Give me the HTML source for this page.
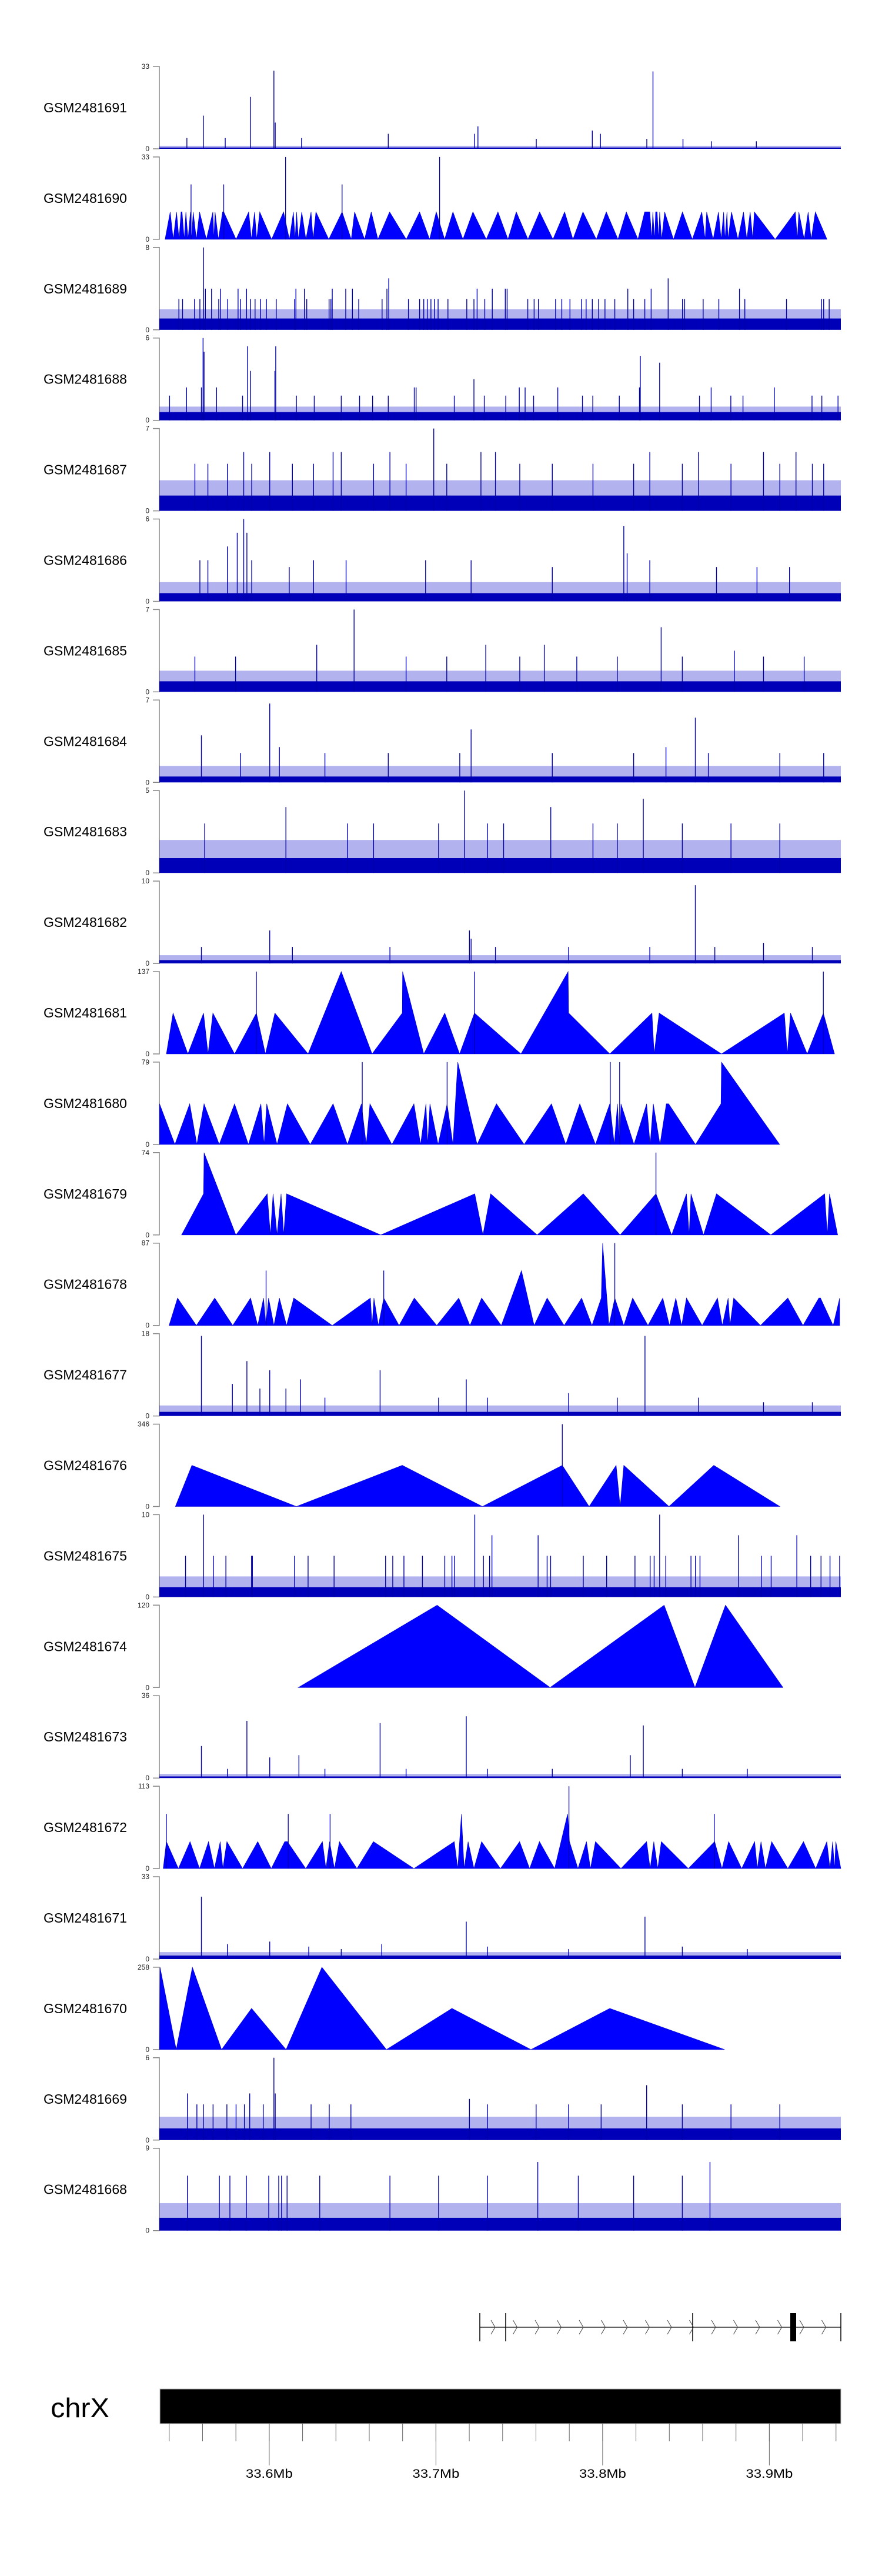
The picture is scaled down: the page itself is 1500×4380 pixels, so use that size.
<!DOCTYPE html>
<html><head><meta charset="utf-8"><title>Coverage tracks chrX</title>
<style>
html,body{margin:0;padding:0;background:#fff;}
svg{display:block;font-family:"Liberation Sans",Arial,sans-serif;}
</style></head>
<body>
<svg id="chart" xmlns="http://www.w3.org/2000/svg" width="1500" height="4380" viewBox="0 0 1500 4380"></svg>
<script>
// ---- data (positions in kb offset from START_KB, values in read counts) ----
const START_KB = 33530.2;
const trackNames = ["GSM2481691","GSM2481690","GSM2481689","GSM2481688","GSM2481687","GSM2481686","GSM2481685","GSM2481684","GSM2481683","GSM2481682","GSM2481681","GSM2481680","GSM2481679","GSM2481678","GSM2481677","GSM2481676","GSM2481675","GSM2481674","GSM2481673","GSM2481672","GSM2481671","GSM2481670","GSM2481669","GSM2481668"];
const trackMax = [33,33,8,6,7,6,7,7,5,10,137,79,74,87,18,346,10,120,36,113,33,258,6,9];
const solidLevel = {"GSM2481691":0.5,"GSM2481689":1.1,"GSM2481688":0.6,"GSM2481687":1.3,"GSM2481686":0.6,"GSM2481685":0.9,"GSM2481684":0.5,"GSM2481683":0.9,"GSM2481682":0.4,"GSM2481677":0.9,"GSM2481675":1.2,"GSM2481673":0.7,"GSM2481671":1.4,"GSM2481669":0.85,"GSM2481668":1.4};
const hazeLevel = {"GSM2481691":1.2,"GSM2481689":2,"GSM2481688":1,"GSM2481687":2.6,"GSM2481686":1.4,"GSM2481685":1.8,"GSM2481684":1.4,"GSM2481683":2,"GSM2481682":1,"GSM2481677":2.3,"GSM2481675":2.5,"GSM2481673":1.8,"GSM2481671":2.8,"GSM2481669":1.7,"GSM2481668":3};

// noise tracks: spike positions / values
const pos1691 = [20.4,30.3,43.4,58.5,72.6,73.4,89.2,141.2,193,195,230,263.6,268.5,296.3,300,318,335,362];
const val1691 = [4.3,13.3,4.3,20.8,31.3,10.5,4.3,6,6,9,4,7.3,6,4,31,4,3,3];
const pos1689 = [30.4,31.5,35.2,40.6,51.1,56.2,85.8,90.9,107.6,115.7,119.7,140.4,141.5,194.5,203.6,211.4,212.5,284.9,298.9,309.1,351.9,15.6,17.8,25,28.2,39.5,44.9,52.5,58.6,61.3,64.6,68.1,74,85,92.3,105.7,106.8,123.5,137.5,153.3,160,162.5,164.6,166.8,168.9,171.1,177,188.3,192.6,199.1,224.9,228.7,231.3,241.6,245.3,250.2,257.2,259.9,263.6,267.4,271.2,277.1,288.4,295.1,317.7,319,330.1,339.5,355.1,380.1,401.1,402.4,405.7];
const val1689 = [8,4,4,4,4,4,4,4,4,4,4,4,5,4,4,4,4,4,4,5,4,3,3,3,3,3,3,3,3,3,3,3,3,3,3,3,3,3,3,3,3,3,3,3,3,3,3,3,3,3,3,3,3,3,3,3,3,3,3,3,3,3,3,3,3,3,3,3,3,3,3,3,3];
const pos1688 = [30.1,30.7,56.8,58.6,73.7,73.2,20.2,29.1,192.6,292.4,291.9,304,156.8,157.9,242.9,219.8,223.3,334.9,372.8,38.2,10,53.8,86.1,96.8,113,124,131.8,141.2,180.8,198.8,211.7,228.4,257.7,263.9,279.8,327.9,346.7,354,395.4,401.3,411];
const val1688 = [6,5,5.4,3.6,5.4,3.6,2.4,2.4,3,4.7,2.4,4.2,2.4,2.4,2.4,2.4,2.4,2.4,2.4,2.4,1.8,1.8,1.8,1.8,1.8,1.8,1.8,1.8,1.8,1.8,1.8,1.8,1.8,1.8,1.8,1.8,1.8,1.8,1.8,1.8,1.8];
const pos1687 = [168.5,70.1,54.5,108.1,113,142.2,196.8,205.5,298.1,327.3,366.3,385.8,25.2,33,44.7,59.3,83.7,96.4,132.4,151.9,176.3,220.1,239.6,264,288.4,317.6,346.8,376.1,395.6,402.4];
const val1687 = [7,5,5,5,5,5,5,5,5,5,5,5,4,4,4,4,4,4,4,4,4,4,4,4,4,4,4,4,4,4];
const pos1686 = [28.2,33,44.7,50.6,54.5,56.4,59.3,81.8,96.4,115.9,163.6,190.9,239.6,282.5,284.5,298.1,338.1,362.4,381.9];
const val1686 = [3,3,4,5,6,5,3,2.5,3,3,3,3,2.5,5.5,3.5,3,2.5,2.5,2.5];
const pos1685 = [120.7,304.9,98.3,199.7,234.8,348.8,25.2,49.6,151.9,176.3,220.1,254.3,278.6,317.6,366.3,390.7];
const val1685 = [7,5.5,4,4,4,3.5,3,3,3,3,3,3,3,3,3,3];
const pos1684 = [70.1,325.4,29.1,190.9,52.5,75.9,103.2,141.2,184.1,239.6,288.4,307.8,333.2,376.1,402.4];
const val1684 = [6.7,5.5,4,4.5,2.5,3,2.5,2.5,2.5,2.5,2.5,3,2.5,2.5,2.5];
const pos1683 = [187,294.2,238.7,79.8,31.1,116.8,132.4,171.4,200.7,210.4,264,278.6,317.6,346.8,376.1];
const val1683 = [5,4.5,4,4,3,3,3,3,3,3,3,3,3,3,3];
const pos1682 = [325.4,70.1,189.9,29.1,83.7,142.2,190.9,205.5,249.4,298.1,337.1,366.3,395.6];
const val1682 = [9.5,4,4,2,2,2,3,2,2,2,2,2.5,2];
const pos1677 = [29.1,295.2,56.4,70.1,136.3,188,79.8,88.6,47.7,64.2,103.2,171.4,200.7,249.4,278.6,327.3,366.3,395.6];
const val1677 = [17.5,17.5,12,10,10,8,6,8,7,6,4,4,4,5,4,4,3,3];
const pos1675 = [30.4,193.1,304,203.4,231.1,351.3,386.3,19.6,36.3,43.8,59.2,59.7,85,93.1,108.7,139.6,143.9,150.6,161.7,175.1,179.4,181,198.3,202,236.5,238.6,258.2,272.2,289.2,298.3,300.7,307.7,322.8,325.5,328.2,365,370.9,394.6,400.8,406.2,412];
const val1675 = [10,10,10,7.5,7.5,7.5,7.5,5,5,5,5,5,5,5,5,5,5,5,5,5,5,5,5,5,5,5,5,5,5,5,5,5,5,5,5,5,5,5,5,5,5];
const pos1673 = [56.4,136.3,188,294.2,29.1,70.1,87.6,286.4,44.7,103.2,151.9,200.7,239.6,317.6,356.6];
const val1673 = [25,24,27,23,14,9,10,10,4,4,4,4,4,4,4];
const pos1671 = [29.1,295.2,188,70.1,44.7,137.3,200.7,249.4,317.6,356.6,93.5,113];
const val1671 = [25,17,15,7,6,6,5,4,5,4,5,4];
const pos1669 = [72.6,20.7,58.1,73.4,26.4,30.3,36.1,44.4,49.9,54.9,66.2,94.9,105.8,118.8,189.9,296.2,200.7,229.9,249.4,268.9,317.6,346.8,376.1];
const val1669 = [6,3.4,3.4,3.4,2.6,2.6,2.6,2.6,2.6,2.6,2.6,2.6,2.6,2.6,3,4,2.6,2.6,2.6,2.6,2.6,2.6,2.6];
const pos1668 = [20.7,39.9,46.2,56.1,69.5,75.5,77.2,80.5,100.1,230.9,334.2,200.7,255.2,288.4,317.6,142.2,171.4];
const val1668 = [6,6,6,6,6,6,6,6,6,7.5,7.5,6,6,6,6,6,6];

// triangle tracks: polyline vertices + spikes
const vx1690 = [7.3,10.4,12.2,14.2,15.7,16.9,17.5,18.8,19.8,21.1,22.5,23.1,24.2,26.1,28,32.1,36,36.6,37.3,39.3,41.8,42.5,49.9,57.5,59.1,61,62.3,64.1,71.2,78.4,81.9,84.3,85.3,86.2,87.3,89.3,91.8,94.9,96.1,97.8,105.5,113.5,119,121,127,131,135,142,152,160,166,170,175,180,186,192,200,207,213,218,225,232,240,247,252,258,266,272,279,284,291,295,298.1,299.3,299.9,301,301.6,302.5,303.4,304,305.2,307,312.3,317.7,323.6,329.3,331.3,332.2,336.1,339.3,340.9,342.4,343.2,344.4,345,347.1,351,354.3,356.3,358.3,359.9,360.8,373.3,385.4,386.6,387.5,390.7,393.1,394.9,397.4,404.4];
const vy1690 = [0,11,0,11,0,11,11,0,11,0,11,0,11,0,11,0,11,0,11,0,11,11,0,11,0,11,0,11,0,11,0,11,0,11,0,11,0,11,0,11,0,11,0,11,0,11,0,11,0,11,0,11,0,11,0,11,0,11,0,11,0,11,0,11,0,11,0,11,0,11,0,11,11,0,11,0,11,11,0,11,0,11,0,11,0,11,0,11,0,11,0,11,0,11,0,11,0,11,0,11,0,11,0,11,0,11,0,11,0,11,0];
const sx1690 = [22.9,42.5,79.6,113.5,172];
const sv1690 = [22,22,33,22,33];
const vx1681 = [8.1,12.1,21,30.4,33.1,36,49,62.1,67.5,73.2,93.1,113,131.5,149.6,149.8,162.5,175.1,184,192.9,220.8,249.1,249.4,274.1,299.4,300.7,303.7,341.1,378.8,380.6,382.5,392.5,402.2,408.9];
const vy1681 = [0,68,0,68,0,68,0,68,0,68,0,137,0,68,137,0,68,0,68,0,137,68,0,68,0,68,0,68,0,68,0,68,0];
const sx1681 = [62.1,192.9,402.2];
const sv1681 = [137,137,137];
const vx1680 = [4,13.2,22.1,26.4,30.7,39.8,49,57.3,64.8,66.7,68.3,74.5,80.7,94.4,108.1,116.7,125.1,128,130.2,143.4,156.6,160.6,163.8,164.9,166.2,171.1,176.5,180,182.9,194.5,206.1,222.7,239.1,247.7,256.1,265.5,274.1,276.8,278.7,280,280.8,288.6,296.2,298.3,300.2,304.2,308,309.4,325.5,340.8,341.1,376];
const vy1680 = [39,0,39,0,39,0,39,0,39,0,39,0,39,0,39,0,39,0,39,0,39,0,39,0,39,0,39,0,79,0,39,0,39,0,39,0,39,0,39,0,39,0,39,0,39,0,39,39,0,39,79,0];
const sx1680 = [125.6,176.5,274.4,280];
const sv1680 = [79,79,79,79];
const vx1679 = [17.2,30.4,30.7,49.8,68.6,70.5,72.1,74.5,76.9,78.5,80.2,136.7,193.1,198,202.6,230.5,258.2,280.3,301.8,311.2,320.1,321.7,322.8,330.3,338.1,370.7,403,404.6,405.9,410.8];
const vy1679 = [0,37,74,0,37,0,37,0,37,0,37,0,37,0,37,0,37,0,37,0,37,0,37,0,37,0,37,0,37,0];
const sx1679 = [301.8];
const sv1679 = [74];
const vx1678 = [9.7,14.8,26.1,37.1,47.9,58.6,62.9,66.4,67.8,69.4,72.6,75.9,80.2,84.5,107.6,130.5,131.5,132.6,135.3,138.5,147.7,156.8,170.3,183.5,190.2,197.2,209,221.1,228.7,236.5,246.7,257.2,263.4,269,269.8,273.6,277.1,282.5,287.8,297,305.9,309.9,313.7,317.2,320.1,329.5,338.7,341.6,345.1,346.2,348.4,364.5,380.9,390,399.5,400.5,408.1,412];
const vy1678 = [0,29,0,29,0,29,0,29,0,29,0,29,0,29,0,29,0,29,0,29,0,29,0,29,0,29,0,58,0,29,0,29,0,29,87,0,29,0,29,0,29,0,29,0,29,0,29,0,29,0,29,0,29,0,29,29,0,29];
const sx1678 = [67.9,138.5,277.1];
const sv1678 = [58,58,87];
const vx1676 = [13.5,23.4,86.1,149.6,197.7,245.6,261.7,277.9,280.3,282.5,309.6,336.5,376.1];
const vy1676 = [0,173,0,173,0,173,0,173,0,173,0,173,0];
const sx1676 = [245.6];
const sv1676 = [346];
const vx1674 = [87.2,170.5,238.3,306.7,325.2,343.5,378];
const vy1674 = [0,120,0,120,0,120,0];
const sx1674 = [];
const sv1674 = [];
const vx1672 = [6.2,8.1,15.3,22.3,28,33.4,36.9,40.4,42,44.4,53.8,62.9,71,79.1,80.7,91.7,101.7,103.8,106,108.9,111.9,122.4,132.3,156.6,180.8,182.9,185.1,186.7,189.1,192.6,197.2,208.5,220,226,231.9,241,248.8,249.9,255,260.1,262.5,265.5,280.8,296.2,298.3,300.5,302.9,305,321.2,337,341.4,345.4,353.2,361,362.6,364.8,367.5,371.2,380.9,390.3,397.6,404.3,406.2,407.8,408.9,409.7,412.9];
const vy1672 = [0,37,0,37,0,37,0,37,0,37,0,37,0,37,37,0,37,0,37,0,37,0,37,0,37,0,75,0,37,0,37,0,37,0,37,0,75,37,0,37,0,37,0,37,0,37,0,37,0,37,0,37,0,37,0,37,0,37,0,37,0,37,0,37,0,37,0];
const sx1672 = [8.1,81.2,106.3,249.6,336.8];
const sv1672 = [75,75,75,113,75];
const vx1670 = [4,4.3,14,23.7,41.2,59.2,79.9,101.4,140.1,179.4,226.8,274.1,343];
const vy1670 = [0,258,0,258,0,129,0,258,0,129,0,129,0];
const sx1670 = [];
const sv1670 = [];

// bottom axis
const axisTicksMb = [33.54,33.56,33.58,33.60,33.62,33.64,33.66,33.68,33.70,33.72,33.74,33.76,33.78,33.80,33.82,33.84,33.86,33.88,33.90,33.92,33.94];
const axisLabels = ["33.6Mb","33.7Mb","33.8Mb","33.9Mb"];
const axisLabelMb = [33.6,33.7,33.8,33.9];

// ---- scales ----
const NS = "http://www.w3.org/2000/svg";
const svg = document.getElementById('chart');
const PLOT_X0 = 271, PLOT_X1 = 1430;
const PX_PER_KB = 2.835, ORIGIN_PX = 260;
function xOff(off){ return Math.max(PLOT_X0, Math.min(PLOT_X1, ORIGIN_PX + off*PX_PER_KB)); }
function xMb(mb){ return ORIGIN_PX + (mb*1000 - START_KB)*PX_PER_KB; }
function zeroY(i){ return 253 + i*153.9; }
function yVal(i, v){ return zeroY(i) - v/trackMax[i]*140; }
function mk(tag, attrs, parent){
  const e = document.createElementNS(NS, tag);
  for (const k in attrs) e.setAttribute(k, attrs[k]);
  (parent||svg).appendChild(e);
  return e;
}

const noiseData = {
  "GSM2481691":[pos1691,val1691],"GSM2481689":[pos1689,val1689],"GSM2481688":[pos1688,val1688],
  "GSM2481687":[pos1687,val1687],"GSM2481686":[pos1686,val1686],"GSM2481685":[pos1685,val1685],
  "GSM2481684":[pos1684,val1684],"GSM2481683":[pos1683,val1683],"GSM2481682":[pos1682,val1682],
  "GSM2481677":[pos1677,val1677],"GSM2481675":[pos1675,val1675],"GSM2481673":[pos1673,val1673],
  "GSM2481671":[pos1671,val1671],"GSM2481669":[pos1669,val1669],"GSM2481668":[pos1668,val1668]
};
const triData = {
  "GSM2481690":[vx1690,vy1690,sx1690,sv1690],"GSM2481681":[vx1681,vy1681,sx1681,sv1681],
  "GSM2481680":[vx1680,vy1680,sx1680,sv1680],"GSM2481679":[vx1679,vy1679,sx1679,sv1679],
  "GSM2481678":[vx1678,vy1678,sx1678,sv1678],"GSM2481676":[vx1676,vy1676,sx1676,sv1676],
  "GSM2481674":[vx1674,vy1674,sx1674,sv1674],"GSM2481672":[vx1672,vy1672,sx1672,sv1672],
  "GSM2481670":[vx1670,vy1670,sx1670,sv1670]
};

trackNames.forEach(function(name, i){
  const g = mk('g', {});
  
  
  const z = zeroY(i), top = yVal(i, trackMax[i]);
  const lab = mk('text', {x:74, y:z-62, 'font-size':23, fill:'#000'}, g);
  lab.textContent = name;
  
  
  const ax = mk('path', {d:'M260 '+top+'H271V'+z+'H260', fill:'none', stroke:'#888', 'stroke-width':1.5}, g);
  
  
  const tMax = mk('text', {x:254, y:top+4, 'font-size':12, 'text-anchor':'end', fill:'#222'}, g);
  tMax.textContent = String(trackMax[i]);
  
  
  const t0 = mk('text', {x:254, y:z+4, 'font-size':12, 'text-anchor':'end', fill:'#222'}, g);
  t0.textContent = '0';
  
  

  if (noiseData[name]) {
    const sl = solidLevel[name], hz = hazeLevel[name];
    const hzr = mk('rect', {x:PLOT_X0, y:yVal(i,hz), width:PLOT_X1-PLOT_X0, height:z-yVal(i,hz), fill:'rgba(0,0,200,0.3)'}, g);
    
    
    const sr = mk('rect', {x:PLOT_X0, y:yVal(i,sl), width:PLOT_X1-PLOT_X0, height:z-yVal(i,sl), fill:'#0000b8'}, g);
    
    
    const p = noiseData[name][0], v = noiseData[name][1];
    for (let k=0;k<p.length;k++){
      const x = xOff(p[k]);
      const l = mk('line', {x1:x, x2:x, y1:z, y2:yVal(i,v[k]), stroke:'#0000a8', 'stroke-width':1.4}, g);
      
      
    }
  } else {
    const d = triData[name];
    const vx = d[0], vy = d[1];
    let pts = xOff(vx[0]) + ',' + z;
    for (let k=0;k<vx.length;k++) pts += ' ' + xOff(vx[k]) + ',' + yVal(i, vy[k]);
    pts += ' ' + xOff(vx[vx.length-1]) + ',' + z;
    const poly = mk('polygon', {points:pts, fill:'#0000ff', stroke:'#0000d0', 'stroke-width':0.6}, g);
    
    
    for (let k=0;k<d[2].length;k++){
      const x = xOff(d[2][k]);
      const l = mk('line', {x1:x, x2:x, y1:z, y2:yVal(i,d[3][k]), stroke:'#0000b0', 'stroke-width':1.3}, g);
      
      
    }
  }
});

// gene model track
(function(){
  const g = mk('g', {});
  
  
  mk('line', {x1:816, x2:1430, y1:3957, y2:3957, stroke:'#333', 'stroke-width':1.5}, g);
  [816,860,1178,1430].forEach(function(x){
    mk('line', {x1:x, x2:x, y1:3933, y2:3981, stroke:'#000', 'stroke-width':1.5}, g);
  });
  mk('rect', {x:1344, y:3933, width:10, height:48, fill:'#000'}, g);
  for (let x=835; x<1425; x+=37.5){
    mk('path', {d:'M'+x+' 3945L'+(x+7)+' 3957L'+x+' 3969', fill:'none', stroke:'#444', 'stroke-width':1}, g);
  }
})();

// chromosome ideogram + axis
(function(){
  const g = mk('g', {});
  
  
  const c = mk('text', {x:86, y:4110, 'font-size':46, fill:'#000', textLength:100, lengthAdjust:'spacingAndGlyphs'}, g);
  c.textContent = 'chrX';
  
  
  const bar = mk('rect', {x:272, y:4062, width:1158, height:59, fill:'#000', stroke:'#bbb', 'stroke-width':1}, g);
  
  
  axisTicksMb.forEach(function(mb){
    const x = xMb(mb);
    mk('line', {x1:x, x2:x, y1:4121, y2:4151, stroke:'#666', 'stroke-width':1}, g);
  });
  axisLabelMb.forEach(function(mb, k){
    const x = xMb(mb);
    mk('line', {x1:x, x2:x, y1:4121, y2:4192, stroke:'#666', 'stroke-width':1}, g);
    const t = mk('text', {x:x, y:4213, 'font-size':21, 'text-anchor':'middle', fill:'#000', textLength:80, lengthAdjust:'spacingAndGlyphs'}, g);
    t.textContent = axisLabels[k];
    
    
  });
})();
</script>
</body></html>
